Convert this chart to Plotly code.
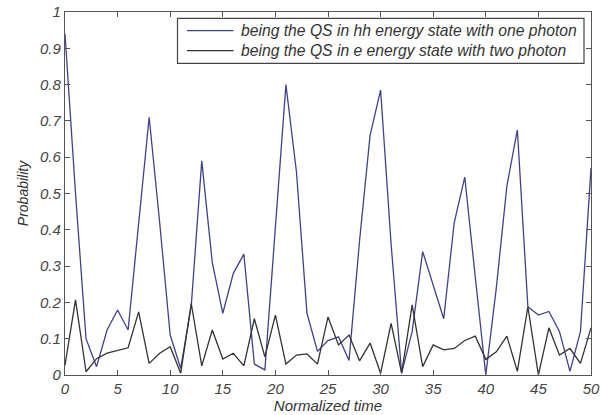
import plotly.graph_objects as go

time = list(range(51))

hh_one_photon = [0.94, 0.50, 0.10, 0.023, 0.124, 0.179, 0.124, 0.42, 0.71, 0.42,
                 0.11, 0.018, 0.19, 0.59, 0.31, 0.17, 0.28, 0.333, 0.03, 0.014,
                 0.42, 0.80, 0.56, 0.17, 0.065, 0.095, 0.105, 0.04, 0.37, 0.66,
                 0.785, 0.36, 0.005, 0.12, 0.34, 0.25, 0.155, 0.42, 0.545, 0.27,
                 0.0, 0.24, 0.52, 0.675, 0.188, 0.165, 0.175, 0.12, 0.01, 0.12,
                 0.57]

e_two_photon = [0.027, 0.207, 0.009, 0.045, 0.06, 0.067, 0.075, 0.174, 0.032, 0.06,
                0.078, 0.005, 0.197, 0.025, 0.124, 0.044, 0.06, 0.025, 0.155, 0.05,
                0.165, 0.03, 0.055, 0.058, 0.03, 0.16, 0.083, 0.11, 0.039, 0.088,
                0.005, 0.142, 0.005, 0.193, 0.023, 0.083, 0.069, 0.073, 0.095, 0.107,
                0.043, 0.064, 0.107, 0.01, 0.188, 0.0, 0.13, 0.055, 0.073, 0.032,
                0.13]

names = ["being the QS in hh energy state with one photon",
         "being the QS in e energy state with two photon"]
colors = ["#40408f", "#333333"]

FONT = "Liberation Sans, Arial, sans-serif"
W, H = 601, 415
L, R, T, B = 65, 10, 12, 40
PW, PH = W - L - R, H - T - B


def px_x(p):
    return (p - L) / PW


def px_y(p):
    return (H - B - p) / PH


fig = go.Figure()
for name, vals, col in zip(names, [hh_one_photon, e_two_photon], colors):
    fig.add_trace(go.Scatter(x=time, y=vals, mode="lines", name=name,
                             line=dict(color=col, width=1.3), showlegend=False))

axis_common = dict(showline=True, linecolor="#555555", linewidth=1.2, mirror="ticks",
                   ticks="inside", ticklen=5, tickcolor="#555555", showgrid=False,
                   zeroline=False,
                   tickfont=dict(family=FONT, size=15, color="#444444", style="italic"))

fig.update_xaxes(range=[0, 50], dtick=5, tick0=0,
                 title=dict(text="Normalized time", standoff=2,
                            font=dict(family=FONT, size=15, color="#333333", style="italic")),
                 **axis_common)
fig.update_yaxes(range=[0, 1], dtick=0.1, tick0=0,
                 title=dict(text="Probability", standoff=8,
                            font=dict(family=FONT, size=14, color="#333333", style="italic")),
                 **axis_common)

# manual MATLAB-style legend box
fig.add_shape(type="rect", xref="paper", yref="paper",
              x0=px_x(177.5), x1=px_x(584), y0=px_y(63.3), y1=px_y(18.3),
              line=dict(color="#444444", width=1.2), fillcolor="white", layer="above")
for i, (name, col) in enumerate(zip(names, colors)):
    yy = px_y(30.7 + 20 * i)
    fig.add_shape(type="line", xref="paper", yref="paper",
                  x0=px_x(187), x1=px_x(233.5), y0=yy, y1=yy,
                  line=dict(color=col, width=1.3), layer="above")
    fig.add_annotation(xref="paper", yref="paper", x=px_x(239), y=yy,
                       xanchor="left", yanchor="middle", showarrow=False,
                       text=name,
                       font=dict(family=FONT, size=15.7, color="#333333", style="italic"))

fig.update_layout(
    width=W, height=H,
    margin=dict(l=L, r=R, t=T, b=B, autoexpand=False),
    paper_bgcolor="white", plot_bgcolor="white",
    showlegend=False,
)

fig.write_html("out.html")
